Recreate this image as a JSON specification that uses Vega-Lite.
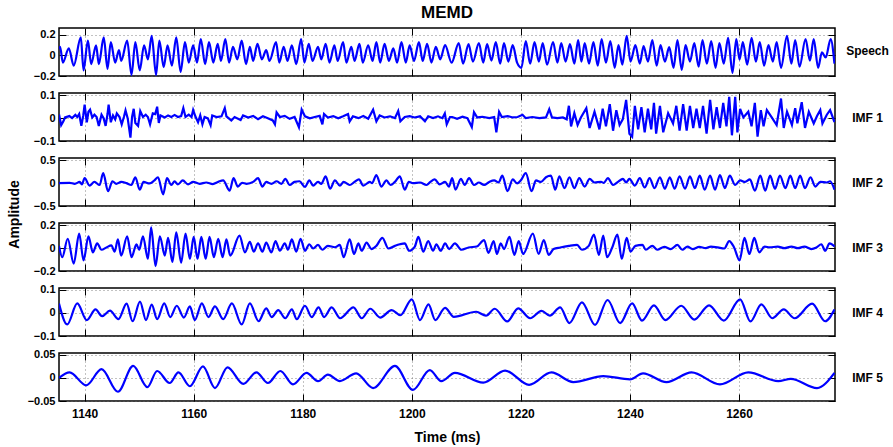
{
"$schema":"https://vega.github.io/schema/vega-lite/v6.json",
"padding":{"left":6,"top":2,"right":4,"bottom":4},
"background":"white",
"spacing":17,
"bounds":"flush",
"config":{
 "font":"Liberation Sans",
 "view":{"stroke":"#000","strokeWidth":1.5},
 "axis":{"labelFont":"Liberation Sans","labelFontWeight":"bold","labelFontSize":11,"labelColor":"#000","tickColor":"#000","tickSize":-7,"tickWidth":1,"labelPadding":11,"domain":false,"gridColor":"#666","gridDash":[1,3],"gridWidth":0.8,"titleFont":"Liberation Sans","titleFontWeight":"bold","titleColor":"#000"}
},
"datasets":{
"speech":[
{"t":1135.3,"v":0.06},{"t":1135.5,"v":0.084},{"t":1136.0,"v":-0.069},{"t":1137.1,"v":0.069},{"t":1138.0,"v":-0.099},{"t":1139.3,"v":0.175},{"t":1139.8,"v":-0.145},{"t":1140.6,"v":0.145},{"t":1141.2,"v":-0.084},{"t":1142.1,"v":0.099},{"t":1142.6,"v":-0.084},{"t":1143.5,"v":0.175},{"t":1144.2,"v":-0.13},{"t":1144.8,"v":0.13},{"t":1145.6,"v":-0.069},{"t":1146.3,"v":0.053},{"t":1146.7,"v":-0.053},{"t":1147.8,"v":0.145},{"t":1148.6,"v":-0.19},{"t":1149.3,"v":0.13},{"t":1150.1,"v":-0.145},{"t":1150.9,"v":0.099},{"t":1151.6,"v":-0.038},{"t":1152.3,"v":0.19},{"t":1153.1,"v":-0.19},{"t":1153.7,"v":0.145},{"t":1154.5,"v":-0.114},{"t":1155.2,"v":0.099},{"t":1156.0,"v":-0.099},{"t":1156.8,"v":0.175},{"t":1157.6,"v":-0.16},{"t":1158.4,"v":0.13},{"t":1159.1,"v":-0.069},{"t":1159.9,"v":0.099},{"t":1160.6,"v":-0.069},{"t":1161.3,"v":0.16},{"t":1162.1,"v":-0.084},{"t":1162.8,"v":0.13},{"t":1163.6,"v":-0.069},{"t":1164.4,"v":0.114},{"t":1165.0,"v":-0.053},{"t":1165.8,"v":0.16},{"t":1166.5,"v":-0.069},{"t":1167.2,"v":0.084},{"t":1168.0,"v":-0.038},{"t":1168.8,"v":0.145},{"t":1169.6,"v":-0.084},{"t":1170.3,"v":0.084},{"t":1170.9,"v":-0.053},{"t":1171.7,"v":0.114},{"t":1172.5,"v":-0.038},{"t":1173.3,"v":0.053},{"t":1173.9,"v":-0.053},{"t":1175.1,"v":0.13},{"t":1175.7,"v":-0.069},{"t":1176.5,"v":0.084},{"t":1177.2,"v":-0.053},{"t":1178.0,"v":0.099},{"t":1178.8,"v":-0.084},{"t":1179.7,"v":0.16},{"t":1180.3,"v":-0.069},{"t":1181.1,"v":0.114},{"t":1181.8,"v":-0.053},{"t":1182.8,"v":0.084},{"t":1183.4,"v":-0.038},{"t":1184.2,"v":0.114},{"t":1184.9,"v":-0.069},{"t":1185.8,"v":0.099},{"t":1186.4,"v":-0.053},{"t":1187.4,"v":0.13},{"t":1188.0,"v":-0.069},{"t":1188.9,"v":0.084},{"t":1189.5,"v":-0.053},{"t":1190.4,"v":0.114},{"t":1191.0,"v":-0.069},{"t":1192.0,"v":0.099},{"t":1192.8,"v":-0.053},{"t":1193.5,"v":0.13},{"t":1194.2,"v":-0.069},{"t":1195.0,"v":0.114},{"t":1195.8,"v":-0.053},{"t":1196.6,"v":0.069},{"t":1197.3,"v":-0.069},{"t":1198.1,"v":0.13},{"t":1198.9,"v":-0.069},{"t":1199.6,"v":0.099},{"t":1200.4,"v":-0.053},{"t":1201.3,"v":0.13},{"t":1202.0,"v":-0.053},{"t":1202.8,"v":0.114},{"t":1203.6,"v":-0.069},{"t":1204.4,"v":0.084},{"t":1205.2,"v":-0.038},{"t":1206.1,"v":0.10},{"t":1207.3,"v":-0.07},
{"t":1208.6,"v":0.12},{"t":1209.4,"v":-0.08},{"t":1210.4,"v":0.11},{"t":1211.2,"v":-0.06},{"t":1212.3,"v":0.12},{"t":1213.1,"v":-0.07},{"t":1213.8,"v":0.11},{"t":1214.6,"v":-0.05},{"t":1215.4,"v":0.13},{"t":1216.2,"v":-0.08},{"t":1216.9,"v":0.12},{"t":1217.7,"v":-0.06},{"t":1218.5,"v":0.10},{"t":1219.3,"v":-0.07},{"t":1220.1,"v":-0.12},{"t":1220.9,"v":0.14},{"t":1221.7,"v":-0.08},{"t":1222.5,"v":0.13},{"t":1223.3,"v":-0.06},{"t":1224.0,"v":0.12},{"t":1224.8,"v":-0.09},{"t":1225.9,"v":0.13},{"t":1226.7,"v":-0.07},{"t":1227.4,"v":0.12},{"t":1228.2,"v":-0.06},{"t":1229.0,"v":0.11},{"t":1229.8,"v":-0.08},{"t":1230.5,"v":0.15},{"t":1231.1,"v":-0.06},{"t":1231.7,"v":0.12},{"t":1232.5,"v":-0.08},{"t":1233.3,"v":0.13},{"t":1234.1,"v":-0.10},{"t":1234.8,"v":0.16},{"t":1235.6,"v":-0.07},{"t":1236.4,"v":0.14},{"t":1237.2,"v":-0.12},{"t":1237.9,"v":0.10},{"t":1238.6,"v":-0.09},{"t":1239.4,"v":0.19},{"t":1240.1,"v":-0.06},{"t":1241.0,"v":0.10},{"t":1241.8,"v":-0.08},{"t":1242.5,"v":0.09},{"t":1243.3,"v":-0.06},{"t":1244.1,"v":0.15},{"t":1244.9,"v":-0.10},{"t":1245.6,"v":0.10},{"t":1246.4,"v":-0.06},{"t":1247.2,"v":0.08},{"t":1248.0,"v":-0.12},{"t":1248.7,"v":0.15},{"t":1249.5,"v":-0.14},{"t":1250.2,"v":0.10},{"t":1251.0,"v":-0.06},{"t":1251.8,"v":0.12},{"t":1252.6,"v":-0.11},{"t":1253.3,"v":0.15},{"t":1254.1,"v":-0.08},{"t":1254.9,"v":0.14},{"t":1255.7,"v":-0.12},{"t":1256.4,"v":0.12},{"t":1257.2,"v":-0.08},{"t":1258.0,"v":0.17},{"t":1258.8,"v":-0.17},{"t":1259.5,"v":0.16},{"t":1260.1,"v":-0.04},{"t":1260.7,"v":0.13},{"t":1261.5,"v":-0.09},{"t":1262.3,"v":0.17},{"t":1263.1,"v":-0.06},{"t":1263.8,"v":0.13},{"t":1264.6,"v":-0.10},{"t":1265.4,"v":0.10},{"t":1266.2,"v":-0.06},{"t":1266.9,"v":0.13},{"t":1267.7,"v":-0.12},{"t":1268.8,"v":0.19},{"t":1269.6,"v":-0.08},{"t":1270.3,"v":0.15},{"t":1271.1,"v":-0.11},{"t":1272.2,"v":0.16},{"t":1273.0,"v":-0.05},{"t":1273.7,"v":0.16},{"t":1274.5,"v":-0.12},{"t":1275.2,"v":0.03},{"t":1275.9,"v":-0.02},{"t":1276.8,"v":0.16},{"t":1277.5,"v":-0.08}
],
"imf1":[
{"t":1135.3,"v":0.0},{"t":1135.4,"v":0.005},{"t":1135.7,"v":-0.031},{"t":1136.1,"v":-0.014},{"t":1136.4,"v":0.003},{"t":1137.2,"v":0.009},{"t":1137.7,"v":0.0},{"t":1138.3,"v":0.014},{"t":1138.65,"v":0.005},{"t":1139.0,"v":0.018},{"t":1139.4,"v":-0.034},{"t":1139.75,"v":0.012},{"t":1140.0,"v":0.059},{"t":1140.4,"v":-0.018},{"t":1140.7,"v":0.028},{"t":1141.0,"v":0.037},{"t":1141.4,"v":0.003},{"t":1141.8,"v":0.015},{"t":1142.2,"v":0.005},{"t":1142.6,"v":-0.034},{"t":1143.1,"v":0.015},{"t":1143.5,"v":-0.001},{"t":1143.85,"v":-0.034},{"t":1144.2,"v":0.018},{"t":1144.4,"v":0.059},{"t":1144.8,"v":-0.018},{"t":1145.2,"v":0.012},{"t":1145.6,"v":-0.005},{"t":1145.9,"v":0.021},{"t":1146.4,"v":0.005},{"t":1146.8,"v":-0.027},{"t":1147.2,"v":0.005},{"t":1147.5,"v":0.034},{"t":1147.9,"v":-0.001},{"t":1148.4,"v":-0.085},{"t":1148.7,"v":0.005},{"t":1149.0,"v":0.041},{"t":1149.3,"v":-0.021},{"t":1149.8,"v":-0.034},{"t":1150.2,"v":0.031},{"t":1150.7,"v":0.005},{"t":1151.2,"v":0.015},{"t":1151.6,"v":0.005},{"t":1152.0,"v":-0.027},{"t":1152.5,"v":0.021},{"t":1152.95,"v":0.018},{"t":1153.3,"v":0.05},{"t":1153.6,"v":-0.021},{"t":1153.9,"v":0.012},{"t":1154.7,"v":0.003},{"t":1155.3,"v":0.012},{"t":1155.9,"v":0.005},{"t":1156.5,"v":0.014},{"t":1157.1,"v":0.005},{"t":1157.7,"v":0.009},{"t":1158.1,"v":0.044},{"t":1158.5,"v":0.005},{"t":1159.1,"v":0.015},{"t":1159.6,"v":0.005},{"t":1159.9,"v":0.036},{"t":1160.3,"v":0.008},{"t":1160.8,"v":-0.018},{"t":1161.2,"v":0.012},{"t":1161.6,"v":-0.027},{"t":1162.0,"v":0.005},{"t":1162.6,"v":-0.001},{"t":1163.1,"v":-0.031},{"t":1163.4,"v":0.012},{"t":1164.2,"v":0.005},{"t":1165.1,"v":0.008},{"t":1165.7,"v":0.044},{"t":1166.0,"v":0.008},{"t":1166.9,"v":-0.01},{"t":1167.5,"v":0.005},{"t":1168.6,"v":-0.008},{"t":1169.05,"v":0.012},{"t":1170.0,"v":0.003},{"t":1170.9,"v":0.01},{"t":1171.8,"v":-0.005},{"t":1172.7,"v":0.008},{"t":1173.6,"v":0.0},{"t":1174.5,"v":-0.01},{"t":1174.9,"v":-0.027},{"t":1175.2,"v":0.025},{"t":1175.8,"v":0.005},{"t":1176.7,"v":0.01},{"t":1177.6,"v":-0.003},{"t":1178.5,"v":0.005},{"t":1179.3,"v":-0.04},{"t":1179.8,"v":0.037},{"t":1180.4,"v":0.008},{"t":1181.3,"v":-0.001},{"t":1182.2,"v":0.005},{"t":1183.1,"v":0.01},{"t":1183.6,"v":-0.027},{"t":1183.9,"v":0.018},{"t":1184.6,"v":0.003},{"t":1185.6,"v":0.009},{"t":1186.5,"v":-0.001},{"t":1187.4,"v":0.008},{"t":1188.3,"v":0.018},{"t":1188.6,"v":-0.014},{"t":1189.2,"v":0.008},{"t":1190.2,"v":0.0},{"t":1191.1,"v":0.009},{"t":1192.0,"v":-0.003},{"t":1192.9,"v":0.037},{"t":1193.5,"v":-0.014},{"t":1194.1,"v":0.012},{"t":1195.0,"v":0.003},{"t":1196.0,"v":0.008},{"t":1196.9,"v":0.0},{"t":1197.5,"v":0.031},{"t":1197.9,"v":-0.014},{"t":1198.7,"v":0.005},{"t":1199.6,"v":0.009},{"t":1200.5,"v":0.003},{"t":1201.5,"v":0.008},{"t":1202.4,"v":-0.014},{"t":1203.0,"v":0.008},{"t":1203.9,"v":0.0},{"t":1204.8,"v":0.008},{"t":1205.6,"v":0.0},{"t":1206.05,"v":0.021},{"t":1206.4,"v":-0.027},{"t":1207.0,"v":0.005},
{"t":1207.4,"v":0.005},{"t":1208.3,"v":-0.003},{"t":1209.3,"v":0.006},{"t":1210.2,"v":0.0},{"t":1211.0,"v":-0.039},{"t":1211.4,"v":0.026},{"t":1212.0,"v":0.003},{"t":1212.95,"v":0.006},{"t":1214.2,"v":0.0},{"t":1215.1,"v":0.005},{"t":1215.5,"v":-0.062},{"t":1216.0,"v":0.028},{"t":1216.5,"v":0.005},{"t":1217.55,"v":0.009},{"t":1218.5,"v":0.003},{"t":1219.4,"v":0.005},{"t":1220.3,"v":0.015},{"t":1220.9,"v":0.0},{"t":1222.1,"v":0.005},{"t":1223.4,"v":0.0},{"t":1224.6,"v":0.003},{"t":1225.2,"v":0.039},{"t":1225.7,"v":0.003},{"t":1226.7,"v":0.0},{"t":1227.7,"v":0.003},{"t":1228.4,"v":-0.005},{"t":1228.8,"v":0.054},{"t":1229.2,"v":-0.036},{"t":1229.8,"v":0.022},{"t":1230.4,"v":-0.03},{"t":1231.0,"v":0.003},{"t":1232.0,"v":0.044},{"t":1232.6,"v":-0.043},{"t":1233.5,"v":0.028},{"t":1234.4,"v":-0.049},{"t":1235.0,"v":0.041},{"t":1235.6,"v":-0.036},{"t":1236.3,"v":0.061},{"t":1236.9,"v":-0.055},{"t":1237.5,"v":0.035},{"t":1238.1,"v":-0.03},{"t":1238.7,"v":-0.004},{"t":1239.3,"v":0.08},{"t":1239.9,"v":-0.068},{"t":1240.4,"v":-0.081},{"t":1240.9,"v":0.054},{"t":1241.5,"v":-0.049},{"t":1242.1,"v":0.048},{"t":1242.7,"v":-0.062},{"t":1243.3,"v":0.041},{"t":1243.9,"v":-0.049},{"t":1244.4,"v":0.067},{"t":1244.8,"v":-0.068},{"t":1245.5,"v":0.054},{"t":1246.1,"v":-0.062},{"t":1247.0,"v":0.022},{"t":1247.9,"v":-0.023},{"t":1248.5,"v":0.054},{"t":1249.1,"v":-0.055},{"t":1249.75,"v":0.061},{"t":1250.4,"v":-0.055},{"t":1251.0,"v":0.054},{"t":1251.6,"v":-0.043},{"t":1252.2,"v":0.041},{"t":1252.8,"v":-0.043},{"t":1253.4,"v":0.054},{"t":1254.05,"v":-0.068},{"t":1254.7,"v":0.08},{"t":1255.3,"v":-0.049},{"t":1255.9,"v":0.048},{"t":1256.5,"v":-0.043},{"t":1257.1,"v":0.067},{"t":1257.7,"v":-0.036},{"t":1258.2,"v":0.093},{"t":1258.7,"v":-0.075},{"t":1259.3,"v":0.093},{"t":1259.7,"v":-0.062},{"t":1260.2,"v":0.041},{"t":1260.8,"v":0.003},{"t":1261.7,"v":0.028},{"t":1262.3,"v":-0.036},{"t":1262.9,"v":0.067},{"t":1263.4,"v":-0.081},{"t":1264.0,"v":0.035},{"t":1264.5,"v":-0.036},{"t":1265.1,"v":0.035},{"t":1266.0,"v":0.003},{"t":1266.9,"v":-0.03},{"t":1267.7,"v":0.086},{"t":1268.2,"v":-0.043},{"t":1268.8,"v":0.028},{"t":1269.7,"v":-0.03},{"t":1270.3,"v":0.044},{"t":1270.7,"v":-0.023},{"t":1271.5,"v":0.07},{"t":1272.1,"v":-0.043},{"t":1272.8,"v":0.028},{"t":1273.7,"v":-0.023},{"t":1274.3,"v":0.009},{"t":1274.9,"v":0.035},{"t":1275.3,"v":-0.023},{"t":1276.1,"v":0.015},{"t":1276.7,"v":0.035},{"t":1277.5,"v":-0.017}
],
"imf2":[
{"t":1135.3,"v":0.0},{"t":1137.25,"v":0.007},{"t":1138.2,"v":-0.014},{"t":1139.1,"v":0.027},{"t":1139.5,"v":-0.027},{"t":1140.0,"v":0.109},{"t":1140.9,"v":-0.054},{"t":1141.8,"v":0.027},{"t":1142.75,"v":-0.041},{"t":1143.4,"v":0.218},{"t":1144.3,"v":-0.177},{"t":1145.1,"v":0.041},{"t":1145.8,"v":-0.014},{"t":1146.7,"v":0.027},{"t":1147.65,"v":0.0},{"t":1148.56,"v":-0.041},{"t":1149.3,"v":0.129},{"t":1150.1,"v":-0.143},{"t":1150.8,"v":0.027},{"t":1151.9,"v":-0.007},{"t":1152.8,"v":0.061},{"t":1153.45,"v":0.129},{"t":1154.4,"v":-0.245},{"t":1155.1,"v":0.109},{"t":1155.9,"v":-0.041},{"t":1156.5,"v":0.041},{"t":1157.1,"v":-0.027},{"t":1158.0,"v":0.061},{"t":1158.96,"v":-0.027},{"t":1159.9,"v":0.027},{"t":1161.1,"v":-0.014},{"t":1162.3,"v":0.014},{"t":1163.5,"v":-0.02},{"t":1164.5,"v":0.027},{"t":1165.4,"v":0.061},{"t":1166.6,"v":-0.163},{"t":1167.3,"v":0.109},{"t":1168.1,"v":-0.075},{"t":1168.9,"v":0.007},{"t":1169.7,"v":-0.014},{"t":1170.9,"v":0.027},{"t":1171.8,"v":0.109},{"t":1172.6,"v":-0.075},{"t":1173.3,"v":0.027},{"t":1174.25,"v":-0.014},{"t":1175.2,"v":0.041},{"t":1176.1,"v":-0.014},{"t":1176.8,"v":0.095},{"t":1177.6,"v":-0.041},{"t":1178.5,"v":0.027},{"t":1179.4,"v":0.041},{"t":1180.4,"v":-0.082},{"t":1181.2,"v":0.061},{"t":1181.9,"v":-0.054},{"t":1182.8,"v":0.027},{"t":1183.4,"v":-0.014},{"t":1184.2,"v":0.15},{"t":1185.0,"v":-0.122},{"t":1185.9,"v":0.061},{"t":1186.8,"v":-0.054},{"t":1187.5,"v":0.027},{"t":1188.6,"v":-0.041},{"t":1189.5,"v":0.027},{"t":1190.3,"v":0.082},{"t":1191.1,"v":-0.054},{"t":1192.3,"v":0.027},{"t":1192.7,"v":0.0},{"t":1193.5,"v":0.177},{"t":1194.4,"v":-0.075},{"t":1195.35,"v":0.061},{"t":1196.1,"v":-0.041},{"t":1196.9,"v":0.027},{"t":1197.8,"v":0.15},{"t":1198.7,"v":-0.143},{"t":1199.45,"v":0.027},{"t":1200.2,"v":0.0},{"t":1201.5,"v":0.014},{"t":1202.7,"v":-0.041},{"t":1203.4,"v":0.027},{"t":1204.2,"v":0.082},{"t":1205.1,"v":-0.027},{"t":1206.1,"v":0.027},{"t":1206.8,"v":-0.075},
{"t":1207.4,"v":0.109},{"t":1208.0,"v":-0.143},{"t":1209.0,"v":0.095},{"t":1209.7,"v":-0.041},{"t":1210.5,"v":0.109},{"t":1211.4,"v":-0.041},{"t":1212.3,"v":0.014},{"t":1213.25,"v":-0.041},{"t":1214.2,"v":0.027},{"t":1215.1,"v":0.061},{"t":1215.9,"v":0.014},{"t":1216.6,"v":0.163},{"t":1217.55,"v":-0.177},{"t":1218.5,"v":0.082},{"t":1219.3,"v":-0.007},{"t":1220.0,"v":0.061},{"t":1220.9,"v":0.218},{"t":1221.96,"v":-0.177},{"t":1222.76,"v":0.061},{"t":1223.7,"v":0.027},{"t":1224.6,"v":0.129},{"t":1225.5,"v":0.163},{"t":1226.3,"v":-0.143},{"t":1227.05,"v":0.15},{"t":1228.0,"v":-0.109},{"t":1228.9,"v":0.129},{"t":1229.8,"v":-0.109},{"t":1230.7,"v":0.109},{"t":1231.7,"v":-0.075},{"t":1232.6,"v":0.095},{"t":1233.5,"v":0.014},{"t":1234.7,"v":0.027},{"t":1235.2,"v":0.007},{"t":1235.95,"v":0.109},{"t":1236.9,"v":-0.041},{"t":1237.8,"v":0.027},{"t":1238.7,"v":0.095},{"t":1239.3,"v":0.014},{"t":1239.9,"v":0.095},{"t":1240.9,"v":-0.054},{"t":1241.8,"v":0.109},{"t":1242.7,"v":-0.095},{"t":1243.6,"v":0.109},{"t":1244.5,"v":-0.109},{"t":1245.5,"v":0.129},{"t":1246.4,"v":-0.122},{"t":1247.3,"v":0.129},{"t":1248.2,"v":-0.122},{"t":1249.1,"v":0.15},{"t":1250.1,"v":-0.122},{"t":1251.0,"v":0.15},{"t":1251.9,"v":-0.109},{"t":1252.8,"v":0.163},{"t":1253.7,"v":-0.143},{"t":1254.7,"v":0.163},{"t":1255.6,"v":-0.143},{"t":1256.5,"v":0.177},{"t":1257.4,"v":-0.109},{"t":1258.3,"v":0.163},{"t":1259.3,"v":-0.041},{"t":1260.2,"v":0.061},{"t":1261.1,"v":0.027},{"t":1262.0,"v":0.082},{"t":1262.9,"v":-0.163},{"t":1263.9,"v":0.163},{"t":1264.8,"v":-0.163},{"t":1265.7,"v":0.163},{"t":1266.6,"v":-0.122},{"t":1267.5,"v":0.163},{"t":1268.5,"v":-0.109},{"t":1269.4,"v":0.163},{"t":1270.3,"v":-0.109},{"t":1271.2,"v":0.163},{"t":1272.1,"v":-0.109},{"t":1273.1,"v":0.129},{"t":1274.0,"v":-0.075},{"t":1274.9,"v":0.027},{"t":1276.1,"v":0.014},{"t":1276.7,"v":0.041},{"t":1277.5,"v":-0.143}
],
"imf3":[
{"t":1135.3,"v":0.02},{"t":1135.9,"v":-0.079},{"t":1136.9,"v":0.082},{"t":1138.0,"v":-0.135},{"t":1139.0,"v":0.127},{"t":1139.8,"v":-0.107},{"t":1140.7,"v":0.104},{"t":1141.5,"v":-0.037},{"t":1142.3,"v":0.042},{"t":1143.1,"v":-0.014},{"t":1144.0,"v":0.006},{"t":1144.9,"v":0.025},{"t":1145.5,"v":-0.031},{"t":1146.1,"v":0.076},{"t":1146.7,"v":-0.065},{"t":1147.8,"v":0.104},{"t":1148.6,"v":-0.079},{"t":1149.5,"v":0.034},{"t":1150.0,"v":-0.014},{"t":1150.7,"v":0.104},{"t":1151.6,"v":-0.093},{"t":1152.2,"v":0.183},{"t":1153.0,"v":-0.158},{"t":1153.8,"v":0.104},{"t":1154.7,"v":-0.065},{"t":1155.3,"v":0.09},{"t":1156.1,"v":-0.121},{"t":1156.8,"v":0.138},{"t":1157.7,"v":-0.127},{"t":1158.5,"v":0.127},{"t":1159.3,"v":-0.093},{"t":1160.0,"v":0.099},{"t":1160.7,"v":-0.093},{"t":1161.4,"v":0.099},{"t":1162.2,"v":-0.093},{"t":1162.9,"v":0.099},{"t":1163.7,"v":-0.079},{"t":1164.5,"v":0.082},{"t":1165.3,"v":-0.079},{"t":1166.0,"v":0.076},{"t":1166.7,"v":-0.065},{"t":1168.4,"v":0.11},{"t":1169.4,"v":-0.037},{"t":1170.3,"v":0.054},{"t":1171.0,"v":-0.031},{"t":1171.8,"v":0.042},{"t":1172.6,"v":-0.031},{"t":1173.3,"v":0.048},{"t":1174.25,"v":-0.037},{"t":1175.0,"v":0.062},{"t":1175.8,"v":-0.023},{"t":1176.7,"v":0.042},{"t":1177.3,"v":-0.014},{"t":1178.0,"v":0.076},{"t":1178.8,"v":-0.031},{"t":1179.6,"v":0.082},{"t":1180.4,"v":-0.023},{"t":1181.2,"v":0.034},{"t":1181.9,"v":-0.003},{"t":1182.8,"v":0.028},{"t":1183.6,"v":-0.014},{"t":1184.6,"v":0.02},{"t":1185.9,"v":0.008},{"t":1186.8,"v":0.028},{"t":1187.5,"v":-0.079},{"t":1188.6,"v":0.076},{"t":1189.4,"v":-0.051},{"t":1190.2,"v":0.042},{"t":1190.8,"v":-0.023},{"t":1191.7,"v":0.048},{"t":1192.6,"v":-0.008},{"t":1193.5,"v":0.02},{"t":1194.6,"v":0.09},{"t":1195.7,"v":-0.003},{"t":1196.9,"v":0.02},{"t":1197.8,"v":0.034},{"t":1198.7,"v":0.042},{"t":1199.5,"v":-0.023},{"t":1200.55,"v":0.014},{"t":1201.2,"v":0.099},{"t":1202.1,"v":-0.031},{"t":1203.0,"v":0.062},{"t":1203.9,"v":-0.023},{"t":1204.5,"v":0.034},{"t":1205.3,"v":-0.023},{"t":1206.1,"v":0.042},{"t":1206.85,"v":-0.008},
{"t":1207.9,"v":0.042},{"t":1209.1,"v":-0.014},{"t":1210.4,"v":0.006},{"t":1211.9,"v":0.014},{"t":1213.25,"v":0.071},{"t":1214.05,"v":-0.042},{"t":1215.0,"v":0.062},{"t":1215.6,"v":-0.051},{"t":1216.3,"v":0.042},{"t":1216.9,"v":-0.008},{"t":1217.9,"v":0.099},{"t":1218.8,"v":-0.059},{"t":1219.6,"v":0.062},{"t":1220.4,"v":-0.051},{"t":1222.2,"v":0.127},{"t":1223.25,"v":-0.051},{"t":1224.2,"v":0.071},{"t":1225.1,"v":-0.059},{"t":1226.0,"v":-0.008},{"t":1227.2,"v":0.006},{"t":1228.8,"v":0.02},{"t":1230.3,"v":0.028},{"t":1231.2,"v":-0.014},{"t":1232.45,"v":0.02},{"t":1233.4,"v":0.118},{"t":1234.3,"v":-0.059},{"t":1235.1,"v":0.11},{"t":1235.8,"v":-0.079},{"t":1236.75,"v":0.006},{"t":1237.7,"v":0.118},{"t":1238.5,"v":-0.093},{"t":1239.4,"v":0.09},{"t":1240.1,"v":-0.031},{"t":1241.0,"v":0.02},{"t":1242.3,"v":0.028},{"t":1242.9,"v":-0.014},{"t":1244.1,"v":0.02},{"t":1245.0,"v":-0.014},{"t":1246.3,"v":0.011},{"t":1247.5,"v":-0.008},{"t":1248.7,"v":0.028},{"t":1249.6,"v":-0.014},{"t":1250.55,"v":0.014},{"t":1251.5,"v":-0.008},{"t":1252.7,"v":0.011},{"t":1253.9,"v":0.0},{"t":1254.85,"v":0.014},{"t":1256.1,"v":0.006},{"t":1257.3,"v":-0.003},{"t":1258.2,"v":0.062},{"t":1259.1,"v":0.006},{"t":1260.1,"v":-0.107},{"t":1261.0,"v":0.09},{"t":1261.9,"v":-0.051},{"t":1262.8,"v":0.09},{"t":1263.7,"v":-0.037},{"t":1264.7,"v":0.014},{"t":1265.6,"v":0.006},{"t":1267.1,"v":0.014},{"t":1268.3,"v":0.0},{"t":1269.6,"v":0.014},{"t":1270.8,"v":0.0},{"t":1272.0,"v":0.014},{"t":1273.25,"v":-0.008},{"t":1274.2,"v":0.006},{"t":1275.1,"v":0.034},{"t":1275.8,"v":-0.023},{"t":1276.6,"v":0.042},{"t":1277.5,"v":0.014}
],
"imf4":[
{"t":1135.3,"v":0.041},{"t":1136.8,"v":-0.05},{"t":1138.65,"v":0.041},{"t":1140.4,"v":-0.031},{"t":1142.0,"v":0.015},{"t":1143.2,"v":-0.014},{"t":1144.65,"v":0.01},{"t":1146.2,"v":-0.027},{"t":1147.7,"v":0.04},{"t":1148.8,"v":-0.036},{"t":1150.15,"v":0.049},{"t":1151.25,"v":-0.031},{"t":1152.3,"v":0.036},{"t":1153.3,"v":-0.027},{"t":1154.6,"v":0.041},{"t":1155.7,"v":-0.018},{"t":1156.9,"v":0.031},{"t":1158.2,"v":-0.02},{"t":1159.3,"v":0.028},{"t":1160.2,"v":-0.031},{"t":1161.5,"v":0.041},{"t":1162.7,"v":-0.018},{"t":1163.9,"v":0.028},{"t":1165.4,"v":-0.027},{"t":1167.0,"v":0.041},{"t":1168.8,"v":-0.05},{"t":1170.3,"v":0.041},{"t":1171.9,"v":-0.036},{"t":1173.3,"v":0.02},{"t":1174.3,"v":-0.018},{"t":1175.5,"v":0.012},{"t":1176.8,"v":-0.023},{"t":1178.0,"v":0.015},{"t":1178.9,"v":-0.027},{"t":1180.4,"v":0.031},{"t":1181.65,"v":-0.018},{"t":1182.9,"v":0.024},{"t":1183.9,"v":-0.018},{"t":1185.3,"v":0.024},{"t":1186.85,"v":-0.023},{"t":1189.3,"v":0.024},{"t":1190.8,"v":-0.023},{"t":1192.4,"v":0.018},{"t":1194.2,"v":-0.02},{"t":1196.3,"v":0.012},{"t":1197.9,"v":-0.01},{"t":1200.0,"v":0.059},{"t":1201.5,"v":-0.031},{"t":1203.06,"v":0.037},{"t":1204.3,"v":-0.031},{"t":1206.1,"v":0.022},
{"t":1207.7,"v":-0.017},{"t":1211.8,"v":0.005},{"t":1213.6,"v":-0.012},{"t":1215.2,"v":0.018},{"t":1217.5,"v":-0.037},{"t":1219.5,"v":0.02},{"t":1221.7,"v":-0.023},{"t":1223.8,"v":0.009},{"t":1225.3,"v":-0.012},{"t":1227.2,"v":0.024},{"t":1228.9,"v":-0.044},{"t":1231.2,"v":0.046},{"t":1233.6,"v":-0.052},{"t":1235.9,"v":0.056},{"t":1238.2,"v":-0.044},{"t":1240.4,"v":0.041},{"t":1242.2,"v":-0.033},{"t":1244.4,"v":0.033},{"t":1246.5,"v":-0.031},{"t":1249.4,"v":0.031},{"t":1251.8,"v":-0.029},{"t":1254.5,"v":0.033},{"t":1257.2,"v":-0.033},{"t":1260.2,"v":0.059},{"t":1262.1,"v":-0.037},{"t":1264.1,"v":0.037},{"t":1266.1,"v":-0.023},{"t":1268.2,"v":0.015},{"t":1270.2,"v":-0.023},{"t":1273.4,"v":0.04},{"t":1275.8,"v":-0.036},{"t":1277.5,"v":0.015}
],
"imf5":[
{"t":1135.3,"v":0.0},{"t":1137.25,"v":0.012},{"t":1140.3,"v":-0.016},{"t":1143.1,"v":0.019},{"t":1146.1,"v":-0.03},{"t":1148.9,"v":0.026},{"t":1151.5,"v":-0.02},{"t":1153.3,"v":0.015},{"t":1155.6,"v":-0.011},{"t":1157.2,"v":0.012},{"t":1159.3,"v":-0.018},{"t":1161.7,"v":0.025},{"t":1163.9,"v":-0.022},{"t":1166.2,"v":0.023},{"t":1169.1,"v":-0.013},{"t":1171.5,"v":0.012},{"t":1173.6,"v":-0.011},{"t":1175.9,"v":0.015},{"t":1178.2,"v":-0.014},{"t":1180.7,"v":0.011},{"t":1182.8,"v":-0.007},{"t":1184.6,"v":0.007},{"t":1186.8,"v":-0.007},{"t":1189.8,"v":0.01},{"t":1192.9,"v":-0.022},{"t":1196.9,"v":0.026},{"t":1200.2,"v":-0.026},{"t":1203.3,"v":0.017},{"t":1205.4,"v":-0.007},{"t":1207.9,"v":0.011},{"t":1213.1,"v":-0.01},{"t":1217.1,"v":0.016},{"t":1221.5,"v":-0.015},{"t":1225.6,"v":0.012},{"t":1229.6,"v":-0.009},{"t":1235.1,"v":0.004},{"t":1240.0,"v":-0.003},{"t":1242.4,"v":0.01},{"t":1246.7,"v":-0.009},{"t":1251.3,"v":0.012},{"t":1256.5,"v":-0.014},{"t":1261.7,"v":0.012},{"t":1267.2,"v":-0.007},{"t":1269.5,"v":-0.002},{"t":1274.3,"v":-0.022},{"t":1277.5,"v":0.011}
]
},
"vconcat":[
{"title":{"text":"MEMD","fontSize":17,"fontWeight":"bold","font":"Liberation Sans","frame":"group","anchor":"middle","offset":6,"color":"#000"},
 "width":776,"height":48,"data":{"name":"speech"},
 "layer":[
  {"mark":{"type":"line","color":"#0000ff","strokeWidth":2.2,"interpolate":"monotone","clip":true},
   "encoding":{"x":{"field":"t","type":"quantitative","scale":{"domain":[1135.3,1277.6],"nice":false,"zero":false},"axis":{"orient":"bottom","values":[1140,1160,1180,1200,1220,1240,1260],"labels":false,"title":null,"grid":true}},
   "y":{"field":"v","type":"quantitative","scale":{"domain":[-0.2,0.267],"nice":false,"zero":false},"axis":{"orient":"left","values":[-0.2,0,0.2],"title":null,"grid":true,"format":".2~f"}}}},
  {"mark":{"type":"line","strokeOpacity":0},
   "encoding":{"x":{"field":"t","type":"quantitative","axis":{"orient":"top","values":[1140,1160,1180,1200,1220,1240,1260],"labels":false,"title":null,"grid":false}},
   "y":{"field":"v","type":"quantitative","axis":{"orient":"right","values":[-0.2,0,0.2],"labels":false,"grid":false,"title":"Speech","titleAngle":0,"titleAlign":"center","titleBaseline":"middle","titleX":32,"titleY":22,"titleFontSize":12}}}}
 ],
 "resolve":{"axis":{"x":"independent","y":"independent"}}
},
{"width":776,"height":48,"data":{"name":"imf1"},
 "layer":[
  {"mark":{"type":"line","color":"#0000ff","strokeWidth":2.2,"clip":true},
   "encoding":{"x":{"field":"t","type":"quantitative","scale":{"domain":[1135.3,1277.6],"nice":false,"zero":false},"axis":{"orient":"bottom","values":[1140,1160,1180,1200,1220,1240,1260],"labels":false,"title":null,"grid":true}},
   "y":{"field":"v","type":"quantitative","scale":{"domain":[-0.1,0.11],"nice":false,"zero":false},"axis":{"orient":"left","values":[-0.1,0,0.1],"title":null,"grid":true,"format":".2~f"}}}},
  {"mark":{"type":"line","strokeOpacity":0},
   "encoding":{"x":{"field":"t","type":"quantitative","axis":{"orient":"top","values":[1140,1160,1180,1200,1220,1240,1260],"labels":false,"title":null,"grid":false}},
   "y":{"field":"v","type":"quantitative","axis":{"orient":"right","values":[-0.1,0,0.1],"labels":false,"grid":false,"title":"IMF 1","titleAngle":0,"titleAlign":"center","titleBaseline":"middle","titleX":32,"titleY":24,"titleFontSize":12}}}}
 ],
 "resolve":{"axis":{"x":"independent","y":"independent"}}
},
{"width":776,"height":48,"data":{"name":"imf2"},
 "layer":[
  {"mark":{"type":"line","color":"#0000ff","strokeWidth":2.2,"interpolate":"monotone","clip":true},
   "encoding":{"x":{"field":"t","type":"quantitative","scale":{"domain":[1135.3,1277.6],"nice":false,"zero":false},"axis":{"orient":"bottom","values":[1140,1160,1180,1200,1220,1240,1260],"labels":false,"title":null,"grid":true}},
   "y":{"field":"v","type":"quantitative","scale":{"domain":[-0.5,0.55],"nice":false,"zero":false},"axis":{"orient":"left","values":[-0.5,0,0.5],"grid":true,"format":".2~f","title":"Amplitude","titleFontSize":14,"titleX":-45,"titleY":56,"titleAngle":-90,"titleAlign":"center","titleBaseline":"middle"}}}},
  {"mark":{"type":"line","strokeOpacity":0},
   "encoding":{"x":{"field":"t","type":"quantitative","axis":{"orient":"top","values":[1140,1160,1180,1200,1220,1240,1260],"labels":false,"title":null,"grid":false}},
   "y":{"field":"v","type":"quantitative","axis":{"orient":"right","values":[-0.5,0,0.5],"labels":false,"grid":false,"title":"IMF 2","titleAngle":0,"titleAlign":"center","titleBaseline":"middle","titleX":32,"titleY":24,"titleFontSize":12}}}}
 ],
 "resolve":{"axis":{"x":"independent","y":"independent"}}
},
{"width":776,"height":48,"data":{"name":"imf3"},
 "layer":[
  {"mark":{"type":"line","color":"#0000ff","strokeWidth":2.2,"interpolate":"monotone","clip":true},
   "encoding":{"x":{"field":"t","type":"quantitative","scale":{"domain":[1135.3,1277.6],"nice":false,"zero":false},"axis":{"orient":"bottom","values":[1140,1160,1180,1200,1220,1240,1260],"labels":false,"title":null,"grid":true}},
   "y":{"field":"v","type":"quantitative","scale":{"domain":[-0.2,0.22],"nice":false,"zero":false},"axis":{"orient":"left","values":[-0.2,0,0.2],"title":null,"grid":true,"format":".2~f"}}}},
  {"mark":{"type":"line","strokeOpacity":0},
   "encoding":{"x":{"field":"t","type":"quantitative","axis":{"orient":"top","values":[1140,1160,1180,1200,1220,1240,1260],"labels":false,"title":null,"grid":false}},
   "y":{"field":"v","type":"quantitative","axis":{"orient":"right","values":[-0.2,0,0.2],"labels":false,"grid":false,"title":"IMF 3","titleAngle":0,"titleAlign":"center","titleBaseline":"middle","titleX":32,"titleY":24,"titleFontSize":12}}}}
 ],
 "resolve":{"axis":{"x":"independent","y":"independent"}}
},
{"width":776,"height":48,"data":{"name":"imf4"},
 "layer":[
  {"mark":{"type":"line","color":"#0000ff","strokeWidth":2.2,"interpolate":"monotone","clip":true},
   "encoding":{"x":{"field":"t","type":"quantitative","scale":{"domain":[1135.3,1277.6],"nice":false,"zero":false},"axis":{"orient":"bottom","values":[1140,1160,1180,1200,1220,1240,1260],"labels":false,"title":null,"grid":true}},
   "y":{"field":"v","type":"quantitative","scale":{"domain":[-0.1,0.108],"nice":false,"zero":false},"axis":{"orient":"left","values":[-0.1,0,0.1],"title":null,"grid":true,"format":".2~f"}}}},
  {"mark":{"type":"line","strokeOpacity":0},
   "encoding":{"x":{"field":"t","type":"quantitative","axis":{"orient":"top","values":[1140,1160,1180,1200,1220,1240,1260],"labels":false,"title":null,"grid":false}},
   "y":{"field":"v","type":"quantitative","axis":{"orient":"right","values":[-0.1,0,0.1],"labels":false,"grid":false,"title":"IMF 4","titleAngle":0,"titleAlign":"center","titleBaseline":"middle","titleX":32,"titleY":24,"titleFontSize":12}}}}
 ],
 "resolve":{"axis":{"x":"independent","y":"independent"}}
},
{"width":776,"height":48,"data":{"name":"imf5"},
 "layer":[
  {"mark":{"type":"line","color":"#0000ff","strokeWidth":2.2,"interpolate":"monotone","clip":true},
   "encoding":{"x":{"field":"t","type":"quantitative","scale":{"domain":[1135.3,1277.6],"nice":false,"zero":false},"axis":{"orient":"bottom","values":[1140,1160,1180,1200,1220,1240,1260],"labels":true,"labelFontSize":12,"labelPadding":14,"title":"Time (ms)","titleFontSize":14,"titlePadding":11,"grid":true,"format":"d"}},
   "y":{"field":"v","type":"quantitative","scale":{"domain":[-0.05,0.054],"nice":false,"zero":false},"axis":{"orient":"left","values":[-0.05,0,0.05],"title":null,"grid":true,"format":".2~f"}}}},
  {"mark":{"type":"line","strokeOpacity":0},
   "encoding":{"x":{"field":"t","type":"quantitative","axis":{"orient":"top","values":[1140,1160,1180,1200,1220,1240,1260],"labels":false,"title":null,"grid":false}},
   "y":{"field":"v","type":"quantitative","axis":{"orient":"right","values":[-0.05,0,0.05],"labels":false,"grid":false,"title":"IMF 5","titleAngle":0,"titleAlign":"center","titleBaseline":"middle","titleX":32,"titleY":24,"titleFontSize":12}}}}
 ],
 "resolve":{"axis":{"x":"independent","y":"independent"}}
}
]
}
